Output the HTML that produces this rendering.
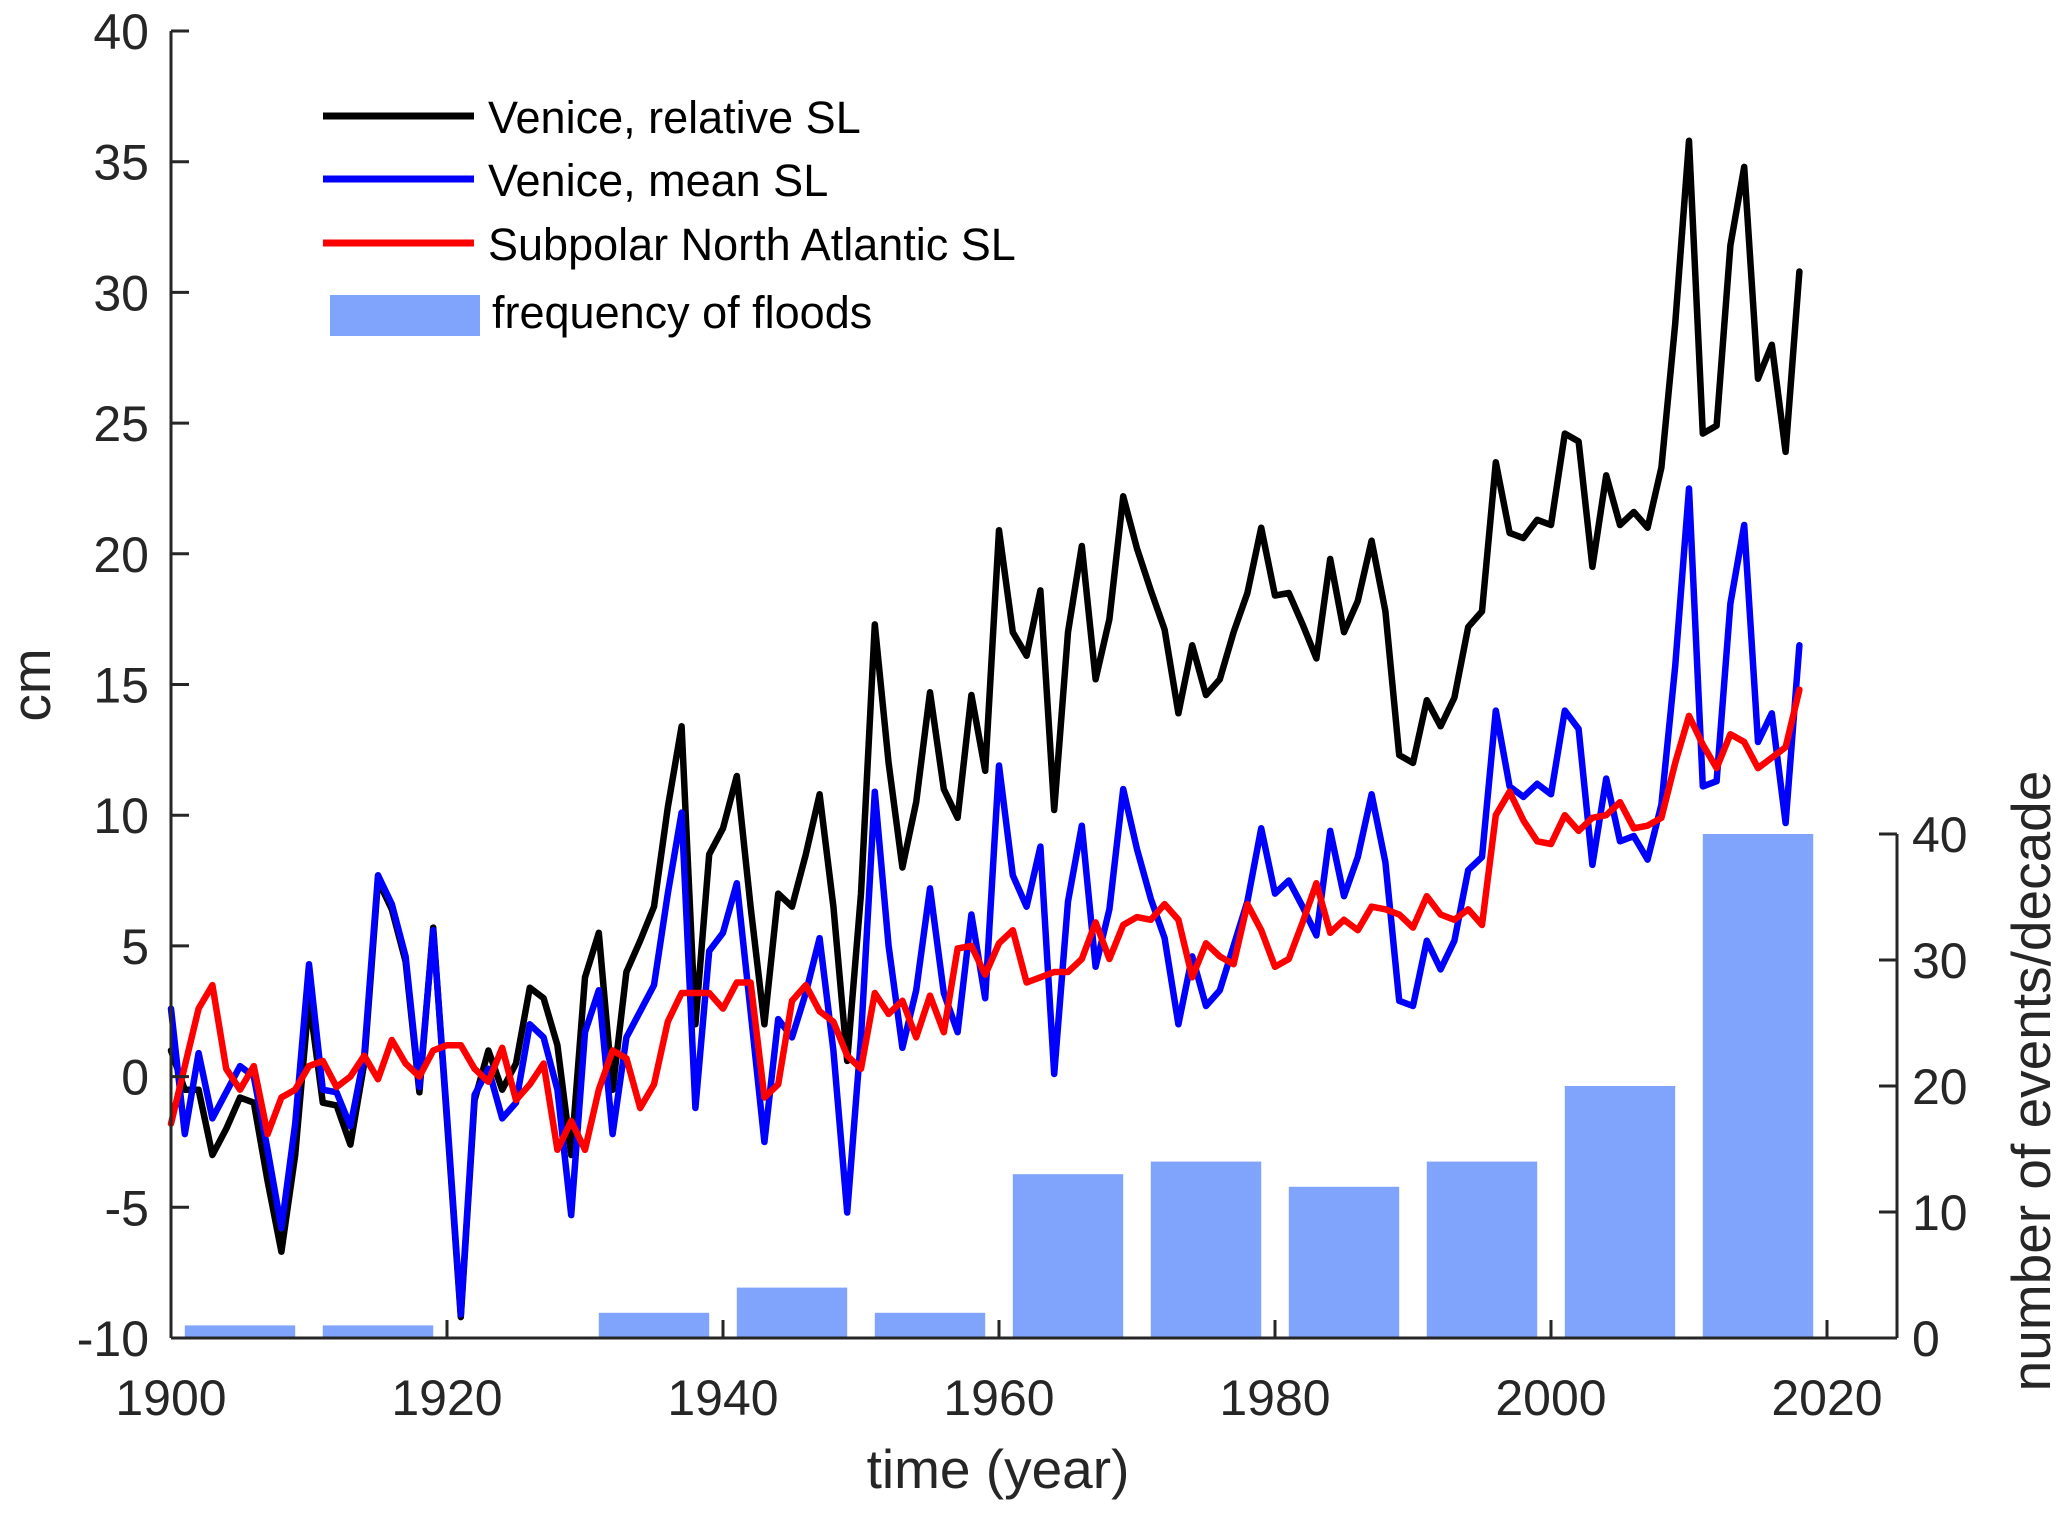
<!DOCTYPE html>
<html><head><meta charset="utf-8"><style>
html,body{margin:0;padding:0;background:#fff;}
svg{display:block;font-family:"Liberation Sans",sans-serif;}
</style></head><body>
<svg id="chart" width="2067" height="1519" viewBox="0 0 2067 1519">
<g id="bars"></g>
<g id="lines"></g>
<g id="axes"></g>
<g>
  <line x1="323" y1="116" x2="474" y2="116" stroke="#000" stroke-width="7"/>
  <text x="488" y="133" font-size="45" fill="#000">Venice, relative SL</text>
  <line x1="323" y1="179" x2="474" y2="179" stroke="#0000ff" stroke-width="7"/>
  <text x="488" y="196" font-size="45" fill="#000">Venice, mean SL</text>
  <line x1="323" y1="243" x2="474" y2="243" stroke="#ff0000" stroke-width="7"/>
  <text x="488" y="260" font-size="45" fill="#000">Subpolar North Atlantic SL</text>
  <rect x="330" y="295" width="150" height="41" fill="#80a4fc"/>
  <text x="492" y="328" font-size="45" fill="#000">frequency of floods</text>
</g>
<text x="998" y="1488" font-size="55" fill="#262626" text-anchor="middle">time (year)</text>
<text transform="translate(50,685) rotate(-90)" font-size="55" fill="#262626" text-anchor="middle">cm</text>
<text transform="translate(2050,1081) rotate(-90)" font-size="55" fill="#262626" text-anchor="middle">number of events/decade</text>
</svg>
<script>
const years = []; for (let y = 1900; y <= 2018; y++) years.push(y);
const relativeSL = [1,-0.5,-0.5,-3,-2,-0.8,-1,-4,-6.7,-3,3,-1,-1.1,-2.6,0.5,7.5,6.4,4.4,-0.6,5.7,-1.7,-9.2,-0.9,1,-0.5,0.5,3.4,3,1.2,-3,3.8,5.5,-0.5,4,5.2,6.5,10.3,13.4,2,8.5,9.5,11.5,6.5,2,7,6.5,8.5,10.8,6.5,0.6,7,17.3,12,8,10.5,14.7,11,9.9,14.6,11.7,20.9,17,16.1,18.6,10.2,17,20.3,15.2,17.5,22.2,20.2,18.6,17.1,13.9,16.5,14.6,15.2,17,18.5,21,18.4,18.5,17.3,16,19.8,17,18.2,20.5,17.8,12.3,12,14.4,13.4,14.5,17.2,17.8,23.5,20.8,20.6,21.3,21.1,24.6,24.3,19.5,23,21.1,21.6,21,23.3,28.8,35.8,24.6,24.9,31.8,34.8,26.7,28,23.9,30.8];
const meanSL = [2.6,-2.2,0.9,-1.6,-0.6,0.4,0,-2.8,-5.8,-1.8,4.3,-0.5,-0.6,-1.9,0.8,7.7,6.6,4.6,-0.4,5.6,-1.5,-9.1,-0.7,0.3,-1.6,-1,2,1.5,-0.5,-5.3,1.7,3.3,-2.2,1.5,2.5,3.5,7,10.1,-1.2,4.8,5.5,7.4,2.5,-2.5,2.2,1.5,3.2,5.3,1,-5.2,1.5,10.9,5,1.1,3.3,7.2,3.2,1.7,6.2,3,11.9,7.7,6.5,8.8,0.1,6.7,9.6,4.2,6.4,11,8.7,6.8,5.3,2,4.6,2.7,3.3,5,6.7,9.5,7,7.5,6.5,5.4,9.4,6.9,8.4,10.8,8.2,2.9,2.7,5.2,4.1,5.2,7.9,8.4,14,11.1,10.7,11.2,10.8,14,13.3,8.1,11.4,9,9.2,8.3,10.4,15.7,22.5,11.1,11.3,18.1,21.1,12.8,13.9,9.7,16.5];
const subpolarSL = [-1.8,0.4,2.6,3.5,0.3,-0.5,0.4,-2.2,-0.8,-0.5,0.4,0.6,-0.4,0,0.8,-0.1,1.4,0.5,0,1,1.2,1.2,0.3,-0.2,1.1,-0.9,-0.3,0.5,-2.8,-1.7,-2.8,-0.5,1,0.7,-1.2,-0.3,2.1,3.2,3.2,3.2,2.6,3.6,3.6,-0.8,-0.3,2.9,3.5,2.5,2.1,0.8,0.3,3.2,2.4,2.9,1.5,3.1,1.7,4.9,5,3.9,5.1,5.6,3.6,3.8,4,4,4.5,5.9,4.5,5.8,6.1,6,6.6,6,3.8,5.1,4.6,4.3,6.6,5.6,4.2,4.5,5.9,7.4,5.5,6,5.6,6.5,6.4,6.2,5.7,6.9,6.2,6,6.4,5.8,10,10.9,9.8,9,8.9,10,9.4,9.9,10,10.5,9.5,9.6,9.9,12,13.8,12.7,11.8,13.1,12.8,11.8,12.2,12.6,14.8];
const decades = [1900,1910,1920,1930,1940,1950,1960,1970,1980,1990,2000,2010];
const floodCounts = [1,1,0,2,4,2,13,14,12,14,20,40];
const xTicks = [1900,1920,1940,1960,1980,2000,2020];
const yTicksLeft = [-10,-5,0,5,10,15,20,25,30,35,40];
const yTicksRight = [0,10,20,30,40];

const NS = "http://www.w3.org/2000/svg";
const X0 = 171, X1 = 1827, Xr = 1897, YT = 31, YB = 1338;
const xs = y => X0 + (y - 1900) * (X1 - X0) / 120;
const yl = v => YB - (v + 10) * (YB - YT) / 50;
const yr = v => YB - v * (YB - 834) / 40;
function mk(tag, attrs, parent) { const e = document.createElementNS(NS, tag); for (const k in attrs) e.setAttribute(k, attrs[k]); parent.appendChild(e); return e; }

const bars = document.getElementById('bars');
decades.forEach((d, i) => {
  if (floodCounts[i] <= 0) return;
  const r = mk('rect', {x: xs(d + 1), y: yr(floodCounts[i]), width: xs(d + 9) - xs(d + 1), height: YB - yr(floodCounts[i]), fill: '#80a4fc'}, bars);
  
  
});

const lines = document.getElementById('lines');
[[relativeSL, '#000000', 'relative-sl-line'], [meanSL, '#0000ff', 'mean-sl-line'], [subpolarSL, '#ff0000', 'subpolar-sl-line']].forEach(([s, c, n]) => {
  const pts = s.map((v, i) => xs(years[i]).toFixed(1) + ',' + yl(v).toFixed(1)).join(' ');
  const p = mk('polyline', {points: pts, fill: 'none', stroke: c, 'stroke-width': 6.5, 'stroke-linejoin': 'round', 'stroke-linecap': 'round'}, lines);
  
  
});

const axes = document.getElementById('axes');
const st = {stroke: '#262626', 'stroke-width': 3, fill: 'none'};
const la = mk('line', Object.assign({x1: X0, y1: YT, x2: X0, y2: YB}, st), axes);


const ba = mk('line', Object.assign({x1: X0, y1: YB, x2: Xr, y2: YB}, st), axes);


const ra = mk('line', Object.assign({x1: Xr, y1: 834, x2: Xr, y2: YB}, st), axes);


yTicksLeft.forEach(v => {
  mk('line', Object.assign({x1: X0, y1: yl(v), x2: X0 + 18, y2: yl(v)}, st), axes);
  const t = mk('text', {x: 149, y: yl(v) + 18, 'font-size': 50, fill: '#262626', 'text-anchor': 'end'}, axes);
  t.textContent = v;
  
  
});
xTicks.forEach(v => {
  mk('line', Object.assign({x1: xs(v), y1: YB, x2: xs(v), y2: YB - 18}, st), axes);
  const t = mk('text', {x: xs(v), y: 1415, 'font-size': 50, fill: '#262626', 'text-anchor': 'middle'}, axes);
  t.textContent = v;
  
  
});
yTicksRight.forEach(v => {
  mk('line', Object.assign({x1: Xr, y1: yr(v), x2: Xr - 18, y2: yr(v)}, st), axes);
  const t = mk('text', {x: 1912, y: yr(v) + 18, 'font-size': 50, fill: '#262626', 'text-anchor': 'start'}, axes);
  t.textContent = v;
  
  
});
</script>
</body></html>
